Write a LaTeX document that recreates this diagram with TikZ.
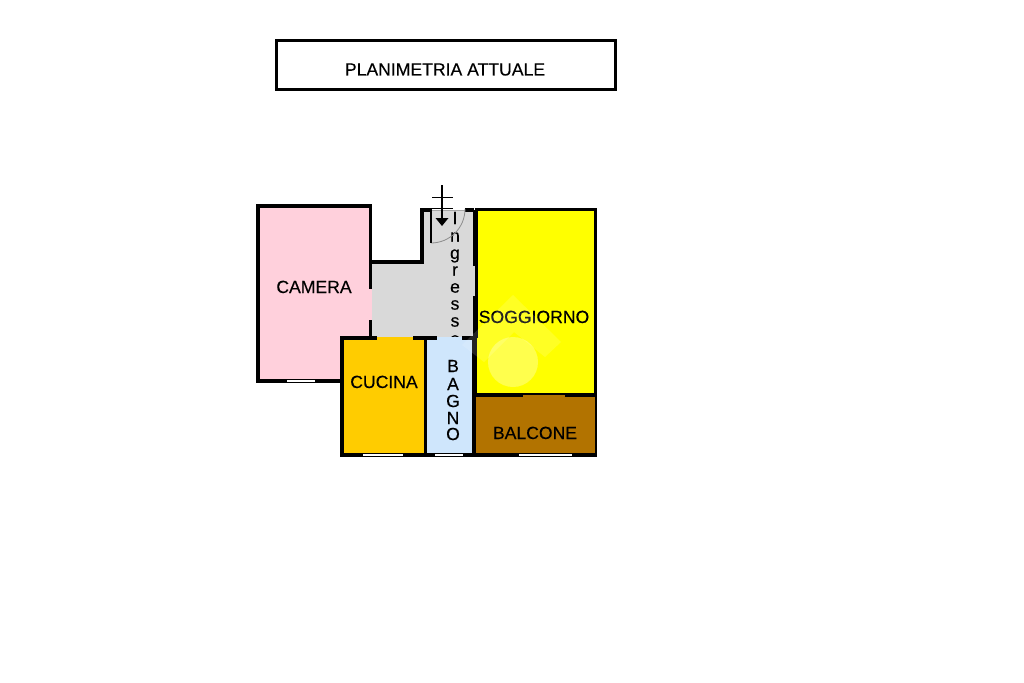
\documentclass[tikz,border=0pt]{standalone}
\usepackage{fontspec}
\setmainfont{Liberation Sans}
\newfontfamily\planfont[FakeBold=0.3]{Liberation Sans}
\tikzset{
  wall/.style={draw=black,line width=3.2pt,line cap=butt},
  thinwall/.style={draw=black,line width=2pt},
  opening/.style={draw=white,line width=1.6pt},
  lbl/.style={font=\planfont\fontsize{17.6}{20}\selectfont,text=black,anchor=base,inner sep=0pt},
  vletter/.style={font=\planfont\fontsize{17.6}{20}\selectfont,text=black,inner sep=0pt},
  titlebox/.style={draw=black,line width=3pt,fill=white},
  watermark/.style={fill=white,fill opacity=0.14},
  watermarkdisc/.style={fill=white,fill opacity=0.3}
}
\definecolor{camerac}{HTML}{FFD0DC}
\definecolor{ingressoc}{HTML}{D9D9D9}
\definecolor{soggiornoc}{HTML}{FFFF00}
\definecolor{cucinac}{HTML}{FFCC00}
\definecolor{bagnoc}{HTML}{CFE6FC}
\definecolor{balconec}{HTML}{B27300}
\begin{document}
\begin{tikzpicture}[x=1pt,y=-1pt]
\useasboundingbox (0,0) rectangle (1024,682);
\fill[white] (0,0) rectangle (1024,682);
% title
\draw[titlebox] (276.5,41) rectangle (615.5,90);
\node[lbl] (title) at (445,75.5) {PLANIMETRIA ATTUALE};
% room fills
\fill[camerac] (258,206) rectangle (372,381);
\fill[ingressoc] (372,262) -- (422,262) -- (422,210) -- (475,210) -- (475,338) -- (372,338) -- cycle;
\fill[soggiornoc] (475,209) rectangle (594,394);
% ingresso letters, the last one cut by the bathroom
\node[vletter] (i1) at (455,218) {I};
\node[vletter] (i2) at (455,237) {n};
\node[vletter] (i3) at (455,256) {g};
\node[vletter] (i4) at (455,271) {r};
\node[vletter] (i5) at (455,288) {e};
\node[vletter] (i6) at (455,305) {s};
\node[vletter] (i7) at (455,322) {s};
\node[vletter] (i8) at (455,340) {o};
\fill[cucinac] (342,337) rectangle (425,455);
\fill[bagnoc] (426,337) rectangle (474,455);
\fill[balconec] (475,394) rectangle (596,455);
% walls
\draw[wall] (258,381) -- (258,206) -- (370.5,206) -- (370.5,289);
\draw[wall] (370.5,320) -- (370.5,338);
\draw[wall] (369,262) -- (422,262) -- (422,210) -- (432,210);
\draw[wall] (465,210) -- (474,210);
\draw[wall] (256.4,381) -- (342,381);
\draw[wall] (342,455.5) -- (342,338) -- (377,338);
\draw[wall] (413,338) -- (437,338);
\draw[wall] (462,338) -- (475,338);
\draw[wall] (425.5,338) -- (425.5,455);
\draw[wall] (340.4,455) -- (597,455);
\draw[wall,line width=3pt] (476,208) -- (476,338);
\draw[wall,line width=5pt] (474.5,338) -- (474.5,394);
\draw[wall,line width=4pt] (474,394) -- (474,456);
\draw[wall,line width=3pt] (474.5,209) -- (595,209) -- (595,394);
\draw[wall,line width=3pt] (474,210) -- (474,266);
\draw[wall,line width=3pt] (474,296) -- (474,338);
\draw[wall,line width=4pt] (473,394.5) -- (523,394.5);
\draw[wall,line width=4pt] (565,394.5) -- (597,394.5);
\draw[thinwall] (523,393.5) -- (565,393.5);
\draw[thinwall] (596,394) -- (596,456);
% window openings
\draw[opening] (287,381) -- (315,381);
\draw[opening] (363,455) -- (403,455);
\draw[opening] (435,455) -- (463,455);
\draw[opening] (519,455) -- (572,455);
% entrance door and arrow
\draw[black!35,line width=0.7pt] (432,210) -- (465,210);
\draw[black!45,line width=0.8pt] (431,243) arc[start angle=90,end angle=0,radius=34];
\draw[black,line width=1.7pt] (431,210) -- (431,243);
\coordinate (crossA) at (442,185);
\coordinate (crossB) at (442,226);
\draw[black,line width=1.4pt] (crossA) -- (442,218);
\fill[black] (435.5,218) -- (448.5,218) -- (crossB) -- cycle;
\draw[black,line width=1pt] (432,197) -- (453,197);
\draw[black,line width=1pt] (432,208) -- (453,208);
% labels
\node[lbl] (camera) at (314,293) {CAMERA};
\node[lbl] (soggiorno) at (534,323) {SOGGIORNO};
\node[lbl] (cucina) at (384,388) {CUCINA};
\node[lbl] (balcone) at (535,439) {BALCONE};
\node[vletter] (b1) at (453,366) {B};
\node[vletter] (b2) at (453,384) {A};
\node[vletter] (b3) at (453,401) {G};
\node[vletter] (b4) at (453,418) {N};
\node[vletter] (b5) at (453,434) {O};
% watermark
\fill[watermark] (513,295) -- (561,342) -- (545,357) -- (514,332) -- (484,362) -- (462,345) -- cycle;
\fill[watermarkdisc] (513,362) circle[radius=25];
\end{tikzpicture}
\end{document}
